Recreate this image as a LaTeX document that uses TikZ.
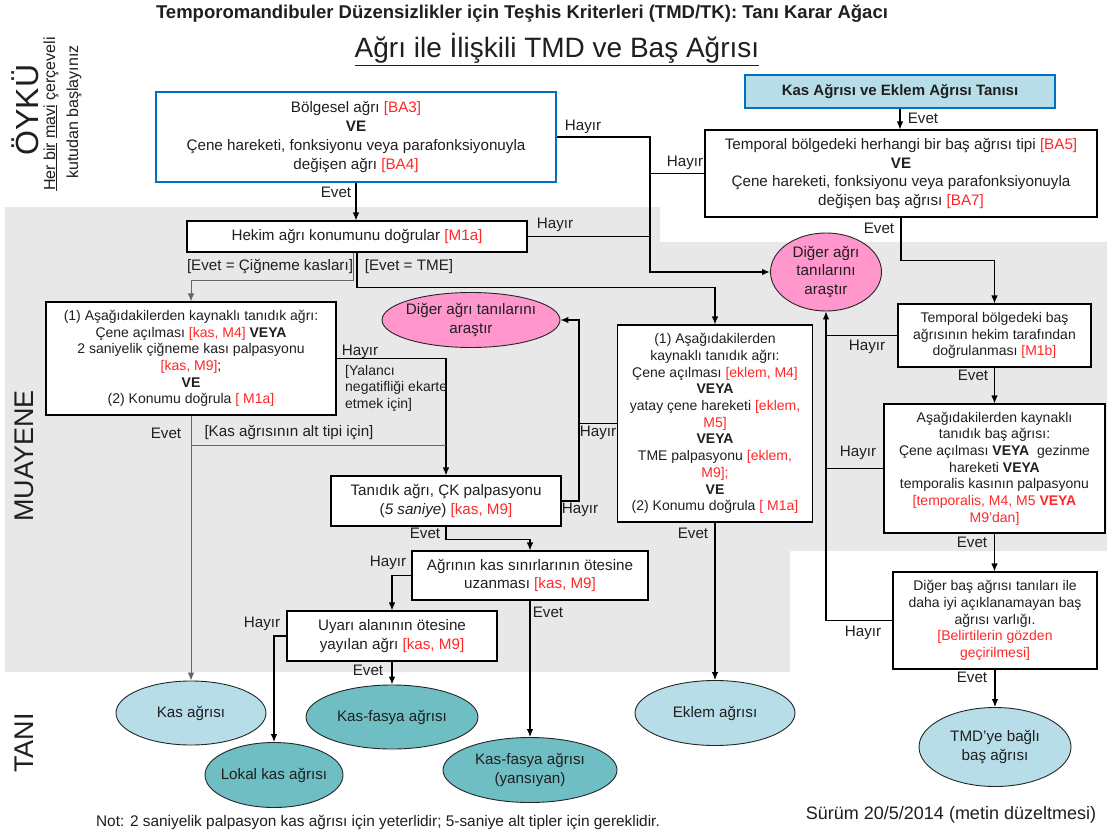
\documentclass[tikz,border=0pt]{standalone}
\usepackage{fontspec}
\setmainfont{Liberation Sans}
\usetikzlibrary{shapes.geometric,arrows.meta}
\definecolor{tmdblue}{RGB}{0,112,192}
\definecolor{refred}{RGB}{255,40,40}
\definecolor{muayenebg}{RGB}{232,232,232}
\definecolor{acikmavi}{RGB}{183,222,232}
\definecolor{koyumavi}{RGB}{110,190,196}
\definecolor{pembe}{RGB}{255,150,204}
\newcommand{\kirmizi}[1]{\textcolor{refred}{#1}}

\begin{document}
\begin{tikzpicture}[
		x=1pt, y=-1pt,
		>={Latex[length=8pt,width=6.5pt]},
		every node/.style={inner sep=0pt, text=black!88},
		kutu/.style={draw, line width=1.1pt, fill=white, align=center, font=\fontsize{15.2}{18.7}\selectfont},
		kucukkutu/.style={kutu, font=\fontsize{14}{16.7}\selectfont},
		mavikutu/.style={kutu, draw=tmdblue, line width=2.6pt},
		tani/.style={ellipse, draw=black!85, line width=0.9pt, inner xsep=-12pt, inner ysep=-6pt, align=center, font=\fontsize{15.2}{18.5}\selectfont},
		cevap/.style={font=\fontsize{15.2}{18}\selectfont},
		ok/.style={->, line width=1.1pt},
		cizgi/.style={line width=1.1pt},
		gri/.style={line width=1pt, draw=black!60}
		]
		\useasboundingbox (0,0) rectangle (1107,832);
		\fill[white] (0,0) rectangle (1107,832);
		\fill[muayenebg] (5,207) -- (660,207) -- (660,242) -- (1107,242) -- (1107,551) -- (790,551) -- (790,672) -- (5,672) -- cycle;

		\node[font=\fontsize{18.5}{21}\selectfont\bfseries, anchor=base] (baslik) at (522,19) {Temporomandibuler Düzensizlikler için Teşhis Kriterleri (TMD/TK): Tanı Karar Ağacı};
		\node[font=\fontsize{28}{32}\selectfont, anchor=base] (altbaslik) at (557,58) {\underline{Ağrı ile İlişkili TMD ve Baş Ağrısı}};
		\node[rotate=90, font=\fontsize{32}{35}\selectfont] (oyku) at (25,110) {ÖYKÜ};
		\node[rotate=90, font=\fontsize{16}{19}\selectfont] (baslangic1) at (51,114) {\underline{Her bir} \underline{mavi} çerçeveli};
		\node[rotate=90, font=\fontsize{16}{19}\selectfont] (baslangic2) at (74,112) {kutudan başlayınız};
		\node[rotate=90, font=\fontsize{27}{30}\selectfont] (muayene) at (24,456) {MUAYENE};
		\node[rotate=90, font=\fontsize{27}{30}\selectfont] (tanibaslik) at (24,743) {TANI};

		\node[mavikutu, minimum width=400, minimum height=90] (bolgesel) at (356,137) {Bölgesel ağrı \kirmizi{[BA3]}\\\textbf{VE}\\Çene hareketi, fonksiyonu veya parafonksiyonuyla\\değişen ağrı \kirmizi{[BA4]}};
		\node[mavikutu, fill=acikmavi, minimum width=310, minimum height=33, font=\fontsize{15}{18}\selectfont\bfseries] (kasekl) at (900,91.5) {Kas Ağrısı ve Eklem Ağrısı Tanısı};
		\node[kutu, minimum width=392, minimum height=87] (ba5) at (901,173.5) {Temporal bölgedeki herhangi bir baş ağrısı tipi \kirmizi{[BA5]}\\\textbf{VE}\\Çene hareketi, fonksiyonu veya parafonksiyonuyla\\değişen baş ağrısı \kirmizi{[BA7]}};
		\node[kutu, minimum width=340, minimum height=31] (hekim) at (357,236.5) {Hekim ağrı konumunu doğrular \kirmizi{[M1a]}};
		\node[tani, fill=pembe, minimum width=111, minimum height=78] (digerbuyuk) at (826,272) {Diğer ağrı\\tanılarını\\araştır};
		\node[kucukkutu, minimum width=193, minimum height=63] (m1b) at (994.5,335.5) {Temporal bölgedeki baş\\ağrısının hekim tarafından\\doğrulanması \kirmizi{[M1b]}};
		\node[kucukkutu, minimum width=221, minimum height=129] (tanidikbas) at (994.5,468.5) {Aşağıdakilerden kaynaklı\\tanıdık baş ağrısı:\\Çene açılması \textbf{VEYA}\ \ gezinme\\hareketi \textbf{VEYA}\\temporalis kasının palpasyonu\\\kirmizi{[temporalis, M4, M5 \textbf{VEYA}}\\\kirmizi{M9’dan]}};
		\node[kucukkutu, minimum width=204, minimum height=97] (digerbas) at (995,620.5) {Diğer baş ağrısı tanıları ile\\daha iyi açıklanamayan baş\\ağrısı varlığı.\\\kirmizi{[Belirtilerin gözden}\\\kirmizi{geçirilmesi]}};
		\node[tani, fill=acikmavi, minimum width=152, minimum height=79] (tmd) at (995,747) {TMD’ye bağlı\\baş ağrısı};
		\node[kucukkutu, minimum width=290, minimum height=113] (cigneme) at (191,358.5) {(1) Aşağıdakilerden kaynaklı tanıdık ağrı:\\Çene açılması \kirmizi{[kas, M4]} \textbf{VEYA}\\2 saniyelik çiğneme kası palpasyonu\\\kirmizi{[kas, M9]};\\\textbf{VE}\\(2) Konumu doğrula \kirmizi{[ M1a]}};
		\node[tani, fill=pembe, minimum width=178, minimum height=55] (digerkucuk) at (471,320) {Diğer ağrı tanılarını\\araştır};
		\node[kucukkutu, minimum width=195, minimum height=197] (tme) at (715,423.5) {(1) Aşağıdakilerden\\kaynaklı tanıdık ağrı:\\Çene açılması \kirmizi{[eklem, M4]}\\\textbf{VEYA}\\yatay çene hareketi \kirmizi{[eklem,}\\\kirmizi{M5]}\\\textbf{VEYA}\\TME palpasyonu \kirmizi{[eklem,}\\\kirmizi{M9];}\\\textbf{VE}\\(2) Konumu doğrula \kirmizi{[ M1a]}};
		\node[kutu, minimum width=230, minimum height=50] (tanidik) at (446,501) {Tanıdık ağrı, ÇK palpasyonu\\(\textit{5 saniye}) \kirmizi{[kas, M9]}};
		\node[kutu, minimum width=236, minimum height=49] (agrinin) at (530,575.5) {Ağrının kas sınırlarının ötesine\\uzanması \kirmizi{[kas, M9]}};
		\node[kutu, minimum width=210, minimum height=50] (uyari) at (392,636) {Uyarı alanının ötesine\\yayılan ağrı \kirmizi{[kas, M9]}};
		\node[tani, fill=acikmavi, minimum width=150, minimum height=64] (kasagri) at (191,713) {Kas ağrısı};
		\node[tani, fill=koyumavi, minimum width=138, minimum height=65] (lokal) at (274,775) {Lokal kas ağrısı};
		\node[tani, fill=koyumavi, minimum width=172, minimum height=64] (kasfasya) at (392,717) {Kas-fasya ağrısı};
		\node[tani, fill=koyumavi, minimum width=174, minimum height=65] (yansiyan) at (530,770) {Kas-fasya ağrısı\\(yansıyan)};
		\node[tani, fill=acikmavi, minimum width=160, minimum height=65] (eklem) at (715,713) {Eklem ağrısı};

		\coordinate (hayirx) at (650,0);
		\coordinate (tmex) at (579,0);
		\coordinate (altip) at (0,445);

		\draw[ok] (bolgesel.south) -- (bolgesel.south |- hekim.north);
		\draw[ok, line width=2pt] (bolgesel.east) -- (bolgesel.east -| hayirx) |- (digerbuyuk.west);
		\draw[cizgi] (ba5.west) -- (ba5.west -| hayirx);
		\draw[cizgi] (hekim.east) -- (hekim.east -| hayirx);
		\draw[ok] (kasekl.south) -- (kasekl.south |- ba5.north);
		\draw[ok] (ba5.south) -- ++(0,43) -| (m1b.north);
		\draw[cizgi] (m1b.west) -- (m1b.west -| digerbuyuk.south);
		\draw[ok] (m1b.south) -- (tanidikbas.north);
		\draw[cizgi] (tanidikbas.west) -- (tanidikbas.west -| digerbuyuk.south);
		\draw[ok] (tanidikbas.south) -- (tanidikbas.south |- digerbas.north);
		\draw[ok] (digerbas.west) -| (digerbuyuk.south);
		\draw[ok] (digerbas.south) -- (tmd.north);
		\draw[ok] (hekim.south) -- ++(0,35) -| (tme.north);
		\draw[ok, gri] ([xshift=-4pt]hekim.south) -- ++(0,28) -| (cigneme.north);
		\draw[ok] (cigneme.east) -| (tanidik.north);
		\draw[ok, gri] (cigneme.south) -- (kasagri.north);
		\draw[gri] (cigneme.south |- altip) -- (tanidik.north |- altip);
		\draw[ok] (tanidik.east) -- (tanidik.east -| tmex) |- (digerkucuk.east);
		\draw[cizgi] (tme.west) -- (tme.west -| tmex);
		\draw[ok] (tanidik.south) -- ++(0,13) -| (agrinin.north);
		\draw[ok] (agrinin.west) -| (uyari.north);
		\draw[ok] (agrinin.south) -- (yansiyan.north);
		\draw[ok] (uyari.west) -| (lokal.north);
		\draw[ok] (uyari.south) -- (kasfasya.north);
		\draw[ok] (tme.south) -- (eklem.north);

		\node[cevap] (evet1) at (336,192) {Evet};
		\node[cevap] (hayir1) at (583,127) {Hayır};
		\node[cevap] (hayir2) at (685,163) {Hayır};
		\node[cevap] (hayir3) at (555,225) {Hayır};
		\node[cevap] (evet2) at (923,118) {Evet};
		\node[cevap] (evet3) at (879,228) {Evet};
		\node[cevap] (cignemeyol) at (270,267) {[Evet = Çiğneme kasları]};
		\node[cevap] (tmeyol) at (409,267) {[Evet = TME]};
		\node[cevap] (hayir4) at (360,352) {Hayır};
		\node[cevap, anchor=north west, align=left, font=\fontsize{14}{16.5}\selectfont] (yalanci) at (345,365) {[Yalancı\\negatifliği ekarte\\etmek için]};
		\node[cevap] (hayir5) at (867,347) {Hayır};
		\node[cevap] (evet4) at (973,375) {Evet};
		\node[cevap] (hayir6) at (858,453) {Hayır};
		\node[cevap] (evet5) at (972,542) {Evet};
		\node[cevap] (hayir7) at (598,433) {Hayır};
		\node[cevap] (hayir8) at (580,510) {Hayır};
		\node[cevap] (evet6) at (166,433) {Evet};
		\node[cevap] (altipyol) at (289,433) {[Kas ağrısının alt tipi için]};
		\node[cevap] (evet7) at (693,533) {Evet};
		\node[cevap] (evet8) at (425,533) {Evet};
		\node[cevap] (hayir9) at (388,563) {Hayır};
		\node[cevap] (evet9) at (548,612) {Evet};
		\node[cevap] (hayir10) at (262,624) {Hayır};
		\node[cevap] (evet10) at (368,670) {Evet};
		\node[cevap] (hayir11) at (863,633) {Hayır};
		\node[cevap] (evet11) at (972,677) {Evet};

		\node[font=\fontsize{15.4}{18}\selectfont] (notmetni) at (378,822) {Not: 2 saniyelik palpasyon kas ağrısı için yeterlidir; 5-saniye alt tipler için gereklidir.};
		\node[font=\fontsize{18}{21}\selectfont] (surum) at (951,815) {Sürüm 20/5/2014 (metin düzeltmesi)};
	\end{tikzpicture}
\end{document}
